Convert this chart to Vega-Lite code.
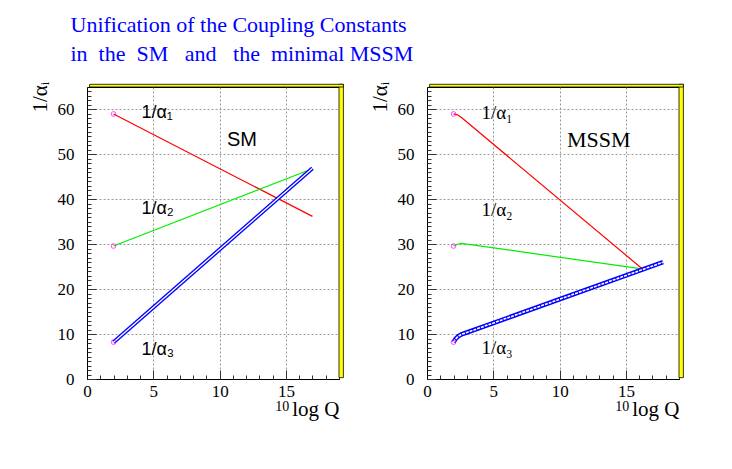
{
  "$schema": "https://vega.github.io/schema/vega-lite/v6.json",
  "background": "white",
  "padding": {"left": 28, "top": 13, "right": 5, "bottom": 5},
  "title": {
    "text": ["Unification of the Coupling Constants", "\u00a0in\u00a0\u00a0the\u00a0\u00a0SM\u00a0\u00a0\u00a0and\u00a0\u00a0\u00a0the\u00a0\u00a0minimal\u00a0MSSM"],
    "anchor": "start", "font": "Liberation Serif", "fontSize": 22, "fontWeight": "normal",
    "color": "#0000ff", "lineHeight": 29, "dx": 42, "offset": 15, "frame": "bounds"
  },
  "datasets": {
    "sm": [
      {"series": "a1", "x": 2, "y": 59.0}, {"series": "a1", "x": 17, "y": 36.2},
      {"series": "a2", "x": 2, "y": 29.6}, {"series": "a2", "x": 17, "y": 46.8},
      {"series": "a3", "x": 2, "y": 8.2}, {"series": "a3", "x": 17, "y": 46.9}
    ],
    "mssm": [
      {"series": "a1", "x": 2, "y": 59.0}, {"series": "a1", "x": 2.3, "y": 58.8}, {"series": "a1", "x": 2.6, "y": 58.2}, {"series": "a1", "x": 16.2, "y": 24.6},
      {"series": "a2", "x": 2, "y": 29.6}, {"series": "a2", "x": 2.3, "y": 30.0}, {"series": "a2", "x": 2.6, "y": 30.2}, {"series": "a2", "x": 16.2, "y": 24.5},
      {"series": "a3", "x": 2, "y": 8.2}, {"series": "a3", "x": 2.15, "y": 8.9}, {"series": "a3", "x": 2.35, "y": 9.5}, {"series": "a3", "x": 2.6, "y": 9.95}, {"series": "a3", "x": 3.0, "y": 10.35}, {"series": "a3", "x": 17.8, "y": 26.0}
    ],
    "start": [
      {"x": 2, "y": 59.0}, {"x": 2, "y": 29.6}, {"x": 2, "y": 8.2}
    ],
    "smLabels": [
      {"x": 4.1, "y": 59.2, "label": "1/α₁"},
      {"x": 4.1, "y": 37.9, "label": "1/α₂"},
      {"x": 4.1, "y": 6.5, "label": "1/α₃"}
    ],
    "mssmLabels": [
      {"x": 4.1, "y": 59.2, "label": "1/α₁"},
      {"x": 4.1, "y": 37.6, "label": "1/α₂"},
      {"x": 4.1, "y": 6.8, "label": "1/α₃"}
    ],
    "smName": [{"x": 10.55, "y": 53.3, "label": "SM"}],
    "mssmName": [{"x": 10.55, "y": 53.3, "label": "MSSM"}],
    "sup": [{"x": 15.25, "y": -7.1, "label": "10"}],
    "one": [{}]
  },
  "hconcat": [
    {
      "width": 252, "height": 292,
      "resolve": {"axis": {"x": "independent", "y": "independent"}},
      "layer": [
        {
          "data": {"name": "sm"},
          "transform": [{"filter": "datum.series !== 'a3'"}],
          "mark": {"type": "line", "strokeWidth": 1.2},
          "encoding": {
            "x": {"field": "x", "type": "quantitative", "scale": {"domain": [0, 19], "nice": false, "zero": false},
              "axis": {
                "orient": "bottom",
                "title": "log Q", "titleFont": "Liberation Serif", "titleFontSize": 21, "titleFontWeight": "normal", "titleColor": "black",
                "titleAnchor": "end", "titleAlign": "right", "titleX": 252, "titleY": 36, "titleBaseline": "alphabetic",
                "values": [0, 5, 10, 15], "labelOverlap": false,
                "labelFont": "Liberation Serif", "labelFontSize": 17, "labelColor": "black", "labelPadding": 13, "labelFlush": false,
                "domainColor": "black", "tickColor": "#333", "tickSize": -9,
                "grid": true, "gridColor": "#999", "gridDash": [2, 2]
              }},
            "y": {"field": "y", "type": "quantitative", "scale": {"domain": [0, 65], "nice": false, "zero": false},
              "axis": {
                "orient": "left",
                "title": "1/αᵢ", "titleFont": "Liberation Serif", "titleFontSize": 21, "titleFontWeight": "normal", "titleColor": "black",
                "titleAngle": -90, "titleAlign": "left", "titleBaseline": "middle", "titleX": -47, "titleY": 25,
                "values": [0, 10, 20, 30, 40, 50, 60], "labelOverlap": false,
                "labelFont": "Liberation Serif", "labelFontSize": 17, "labelColor": "black", "labelPadding": 22, "labelFlush": false,
                "domainColor": "black", "tickColor": "#333", "tickSize": -9,
                "grid": true, "gridColor": "#999", "gridDash": [2, 2]
              }},
            "color": {"field": "series", "type": "nominal", "scale": {"domain": ["a1", "a2", "a3"], "range": ["#ff0000", "#00ee00", "#0000ff"]}, "legend": null}
          }
        },
        {
          "data": {"name": "sm"},
          "transform": [{"filter": "datum.series === 'a3'"}],
          "mark": {"type": "line", "color": "#0000ff", "strokeWidth": 4},
          "encoding": {
            "x": {"field": "x", "type": "quantitative",
              "axis": {"orient": "bottom", "title": null, "labels": false, "grid": false, "domain": false, "tickColor": "#333", "tickSize": -4,
                "values": [0,1,2,3,4,5,6,7,8,9,10,11,12,13,14,15,16,17,18,19]}},
            "y": {"field": "y", "type": "quantitative",
              "axis": {"orient": "left", "title": null, "labels": false, "grid": false, "domain": false, "tickColor": "#333", "tickSize": -4,
                "values": [0,1,2,3,4,5,6,7,8,9,10,11,12,13,14,15,16,17,18,19,20,21,22,23,24,25,26,27,28,29,30,31,32,33,34,35,36,37,38,39,40,41,42,43,44,45,46,47,48,49,50,51,52,53,54,55,56,57,58,59,60,61,62,63,64]}}
          }
        },
        {
          "data": {"name": "sm"},
          "transform": [{"filter": "datum.series === 'a3'"}],
          "mark": {"type": "line", "color": "#ffffff", "strokeWidth": 1.3},
          "encoding": {"x": {"field": "x", "type": "quantitative", "axis": null}, "y": {"field": "y", "type": "quantitative", "axis": null}}
        },
        {
          "data": {"name": "start"},
          "mark": {"type": "point", "shape": "circle", "filled": false, "color": "#ff00ff", "size": 22, "strokeWidth": 1},
          "encoding": {"x": {"field": "x", "type": "quantitative", "axis": null}, "y": {"field": "y", "type": "quantitative", "axis": null}}
        },
        {
          "data": {"name": "smLabels"},
          "mark": {"type": "text", "align": "left", "baseline": "middle", "font": "Liberation Sans", "fontSize": 18, "color": "black"},
          "encoding": {"x": {"field": "x", "type": "quantitative", "axis": null}, "y": {"field": "y", "type": "quantitative", "axis": null}, "text": {"field": "label"}}
        },
        {
          "data": {"name": "smName"},
          "mark": {"type": "text", "align": "left", "baseline": "middle", "font": "Liberation Sans", "fontSize": 20, "color": "black"},
          "encoding": {"x": {"field": "x", "type": "quantitative", "axis": null}, "y": {"field": "y", "type": "quantitative", "axis": null}, "text": {"field": "label"}}
        },
        {
          "data": {"name": "sup"},
          "mark": {"type": "text", "align": "right", "baseline": "alphabetic", "font": "Liberation Serif", "fontSize": 14, "color": "black"},
          "encoding": {"x": {"field": "x", "type": "quantitative", "axis": null}, "y": {"field": "y", "type": "quantitative", "axis": null}, "text": {"field": "label"}}
        },
        {
          "data": {"name": "one"},
          "mark": {"type": "rect", "fill": "#ffff00", "stroke": "black", "strokeWidth": 0.8},
          "encoding": {"x": {"datum": 19, "type": "quantitative", "axis": null}, "x2": {"datum": 19.33}, "y": {"datum": 0.3, "type": "quantitative", "axis": null}, "y2": {"datum": 65.6}}
        },
        {
          "data": {"name": "one"},
          "mark": {"type": "rect", "fill": "#ffff00", "stroke": "black", "strokeWidth": 0.8},
          "encoding": {"x": {"datum": 0.2, "type": "quantitative", "axis": null}, "x2": {"datum": 19.33}, "y": {"datum": 65, "type": "quantitative", "axis": null}, "y2": {"datum": 65.6}}
        }
      ]
    },
    {
      "width": 252, "height": 292,
      "resolve": {"axis": {"x": "independent", "y": "independent"}},
      "layer": [
        {
          "data": {"name": "mssm"},
          "transform": [{"filter": "datum.series !== 'a3'"}],
          "mark": {"type": "line", "strokeWidth": 1.2},
          "encoding": {
            "x": {"field": "x", "type": "quantitative", "scale": {"domain": [0, 19], "nice": false, "zero": false},
              "axis": {
                "orient": "bottom",
                "title": "log Q", "titleFont": "Liberation Serif", "titleFontSize": 21, "titleFontWeight": "normal", "titleColor": "black",
                "titleAnchor": "end", "titleAlign": "right", "titleX": 252, "titleY": 36, "titleBaseline": "alphabetic",
                "values": [0, 5, 10, 15], "labelOverlap": false,
                "labelFont": "Liberation Serif", "labelFontSize": 17, "labelColor": "black", "labelPadding": 13, "labelFlush": false,
                "domainColor": "black", "tickColor": "#333", "tickSize": -9,
                "grid": true, "gridColor": "#999", "gridDash": [2, 2]
              }},
            "y": {"field": "y", "type": "quantitative", "scale": {"domain": [0, 65], "nice": false, "zero": false},
              "axis": {
                "orient": "left",
                "title": "1/αᵢ", "titleFont": "Liberation Serif", "titleFontSize": 21, "titleFontWeight": "normal", "titleColor": "black",
                "titleAngle": -90, "titleAlign": "left", "titleBaseline": "middle", "titleX": -47, "titleY": 25,
                "values": [0, 10, 20, 30, 40, 50, 60], "labelOverlap": false,
                "labelFont": "Liberation Serif", "labelFontSize": 17, "labelColor": "black", "labelPadding": 22, "labelFlush": false,
                "domainColor": "black", "tickColor": "#333", "tickSize": -9,
                "grid": true, "gridColor": "#999", "gridDash": [2, 2]
              }},
            "color": {"field": "series", "type": "nominal", "scale": {"domain": ["a1", "a2", "a3"], "range": ["#ff0000", "#00ee00", "#0000ff"]}, "legend": null}
          }
        },
        {
          "data": {"name": "mssm"},
          "transform": [{"filter": "datum.series === 'a3'"}],
          "mark": {"type": "line", "color": "#0000ff", "strokeWidth": 4.5},
          "encoding": {
            "x": {"field": "x", "type": "quantitative",
              "axis": {"orient": "bottom", "title": null, "labels": false, "grid": false, "domain": false, "tickColor": "#333", "tickSize": -4,
                "values": [0,1,2,3,4,5,6,7,8,9,10,11,12,13,14,15,16,17,18,19]}},
            "y": {"field": "y", "type": "quantitative",
              "axis": {"orient": "left", "title": null, "labels": false, "grid": false, "domain": false, "tickColor": "#333", "tickSize": -4,
                "values": [0,1,2,3,4,5,6,7,8,9,10,11,12,13,14,15,16,17,18,19,20,21,22,23,24,25,26,27,28,29,30,31,32,33,34,35,36,37,38,39,40,41,42,43,44,45,46,47,48,49,50,51,52,53,54,55,56,57,58,59,60,61,62,63,64]}}
          }
        },
        {
          "data": {"name": "mssm"},
          "transform": [{"filter": "datum.series === 'a3'"}],
          "mark": {"type": "line", "color": "#ffffff", "strokeWidth": 1.6, "strokeDash": [3, 1]},
          "encoding": {"x": {"field": "x", "type": "quantitative", "axis": null}, "y": {"field": "y", "type": "quantitative", "axis": null}}
        },
        {
          "data": {"name": "start"},
          "mark": {"type": "point", "shape": "circle", "filled": false, "color": "#ff00ff", "size": 22, "strokeWidth": 1},
          "encoding": {"x": {"field": "x", "type": "quantitative", "axis": null}, "y": {"field": "y", "type": "quantitative", "axis": null}}
        },
        {
          "data": {"name": "mssmLabels"},
          "mark": {"type": "text", "align": "left", "baseline": "middle", "font": "Liberation Serif", "fontSize": 19, "color": "black"},
          "encoding": {"x": {"field": "x", "type": "quantitative", "axis": null}, "y": {"field": "y", "type": "quantitative", "axis": null}, "text": {"field": "label"}}
        },
        {
          "data": {"name": "mssmName"},
          "mark": {"type": "text", "align": "left", "baseline": "middle", "font": "Liberation Serif", "fontSize": 22, "color": "black"},
          "encoding": {"x": {"field": "x", "type": "quantitative", "axis": null}, "y": {"field": "y", "type": "quantitative", "axis": null}, "text": {"field": "label"}}
        },
        {
          "data": {"name": "sup"},
          "mark": {"type": "text", "align": "right", "baseline": "alphabetic", "font": "Liberation Serif", "fontSize": 14, "color": "black"},
          "encoding": {"x": {"field": "x", "type": "quantitative", "axis": null}, "y": {"field": "y", "type": "quantitative", "axis": null}, "text": {"field": "label"}}
        },
        {
          "data": {"name": "one"},
          "mark": {"type": "rect", "fill": "#ffff00", "stroke": "black", "strokeWidth": 0.8},
          "encoding": {"x": {"datum": 19, "type": "quantitative", "axis": null}, "x2": {"datum": 19.33}, "y": {"datum": 0.3, "type": "quantitative", "axis": null}, "y2": {"datum": 65.6}}
        },
        {
          "data": {"name": "one"},
          "mark": {"type": "rect", "fill": "#ffff00", "stroke": "black", "strokeWidth": 0.8},
          "encoding": {"x": {"datum": 0.2, "type": "quantitative", "axis": null}, "x2": {"datum": 19.33}, "y": {"datum": 65, "type": "quantitative", "axis": null}, "y2": {"datum": 65.6}}
        }
      ]
    }
  ],
  "spacing": 88,
  "bounds": "flush",
  "config": {
    "view": {"stroke": "black", "strokeWidth": 1},
    "axis": {"domainWidth": 1, "tickWidth": 1, "labelFont": "Liberation Serif", "labelFontSize": 17, "labelColor": "black"}
  }
}
